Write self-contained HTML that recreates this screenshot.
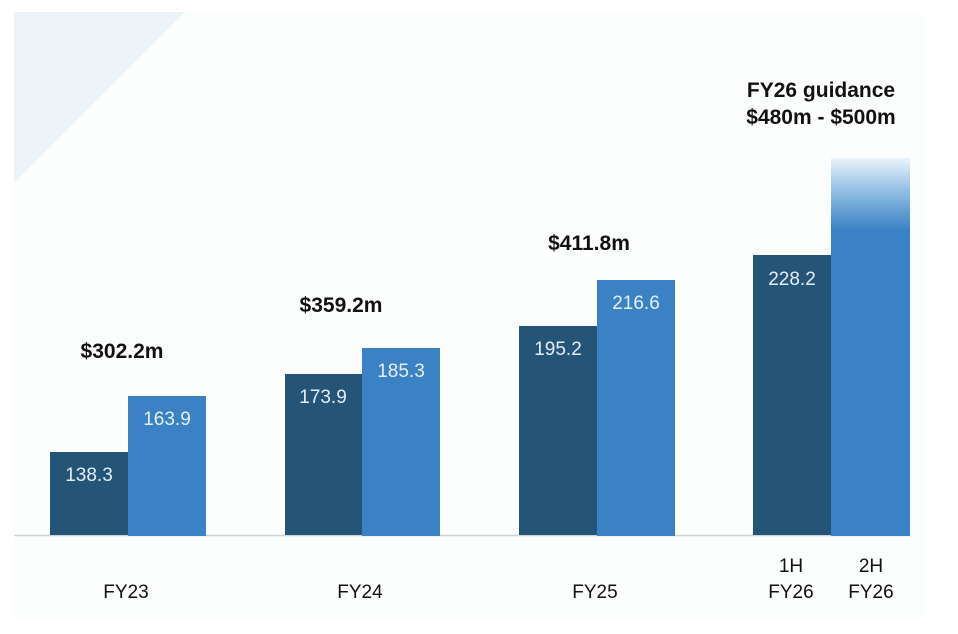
<!DOCTYPE html>
<html><head><meta charset="utf-8"><style>
html,body{margin:0;padding:0;background:#fff;}
svg{display:block;}
text{font-family:"Liberation Sans",sans-serif;}
</style></head><body>
<svg width="958" height="634" viewBox="0 0 958 634" xmlns="http://www.w3.org/2000/svg">
<defs>
<linearGradient id="g" x1="0" y1="0" x2="0" y2="1">
<stop offset="0" stop-color="#eaf4fc"/>
<stop offset="0.09" stop-color="#8fbde2"/>
<stop offset="0.19" stop-color="#3a82c4"/>
<stop offset="1" stop-color="#3a82c4"/>
</linearGradient>
</defs>
<rect x="14" y="12" width="911" height="608" fill="#fcfdfd"/>
<polygon points="14,12 185,12 14,183" fill="#ecf4f8"/>
<line x1="14" y1="535.5" x2="910" y2="535.5" stroke="#cfd4d8" stroke-width="1.5"/>
<g fill="#245577">
<rect x="50" y="452" width="78" height="83"/>
<rect x="285" y="374" width="77" height="161"/>
<rect x="519" y="326" width="78" height="209"/>
<rect x="753" y="255" width="78" height="280"/>
</g>
<g fill="#3a82c4">
<rect x="128" y="396" width="78" height="140"/>
<rect x="362" y="348" width="78" height="188"/>
<rect x="597" y="280" width="78" height="256"/>
</g>
<rect x="831" y="158" width="79" height="378" fill="url(#g)"/>
<g fill="#e6eef5" font-size="19" text-anchor="middle">
<text x="89" y="481">138.3</text>
<text x="167" y="425">163.9</text>
<text x="323" y="403">173.9</text>
<text x="401" y="377">185.3</text>
<text x="558" y="355">195.2</text>
<text x="636" y="309">216.6</text>
<text x="792" y="285">228.2</text>
</g>
<g fill="#111" font-size="21" font-weight="bold" text-anchor="middle">
<text x="122" y="358">$302.2m</text>
<text x="341" y="312">$359.2m</text>
<text x="589" y="250">$411.8m</text>
<text x="821" y="97">FY26 guidance</text>
<text x="821" y="124">$480m - $500m</text>
</g>
<g fill="#111" font-size="19" text-anchor="middle">
<text x="126" y="598">FY23</text>
<text x="360" y="598">FY24</text>
<text x="595" y="598">FY25</text>
<text x="791" y="572">1H</text>
<text x="791" y="598">FY26</text>
<text x="871" y="572">2H</text>
<text x="871" y="598">FY26</text>
</g>
</svg>
</body></html>
